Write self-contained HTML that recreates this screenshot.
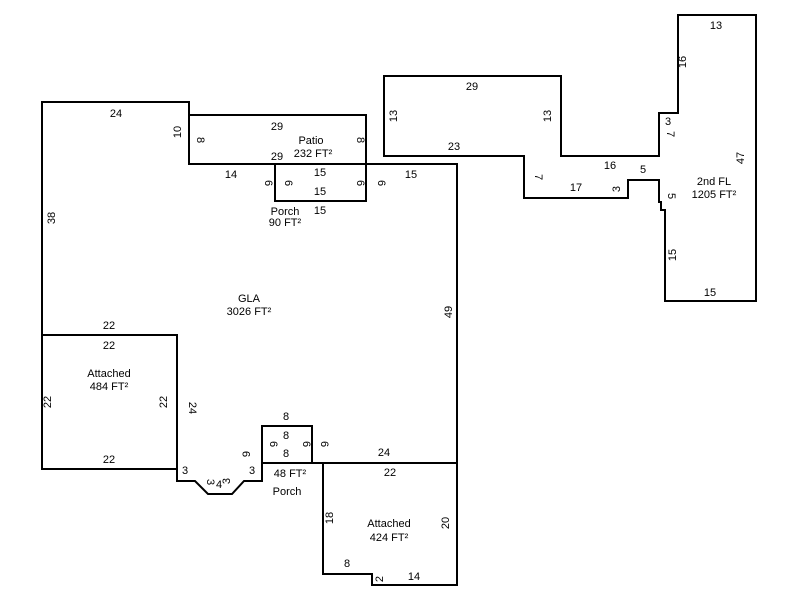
<!DOCTYPE html>
<html><head><style>
html,body{margin:0;padding:0;background:#fff;}
svg text{font-family:"Liberation Sans",Arial,sans-serif;font-size:11px;fill:#000;}
</style></head><body>
<svg width="800" height="600" viewBox="0 0 800 600" xmlns="http://www.w3.org/2000/svg">
<g fill="none" stroke="#000" stroke-width="2">
<polyline points="42,335 42,102 189,102 189,164 457,164 457,463 312,463"/>
<line x1="177" y1="469" x2="177" y2="335"/>
<polyline points="177,469 177,481 195,481 208,494 232,494 244,481 262,481 262,463"/>
<polyline points="42,335 177,335 177,469 42,469 42,335"/>
<polygon points="262,426 312,426 312,463 262,463"/>
<polygon points="323,463 457,463 457,585 372,585 372,574 323,574"/>
<polygon points="189,115 366,115 366,164 189,164"/>
<polygon points="275,164 366,164 366,201 275,201"/>
<polygon points="384,76 561,76 561,156 659,156 659,113 678,113 678,15 756,15 756,301 665,301 665,210 661,210 661,202 659,202 659,180 628,180 628,198 524,198 524,156 384,156"/>
</g>
<g text-anchor="middle">
<text x="116" y="117">24</text>
<text x="55" y="218" transform="rotate(-90 55 218)">38</text>
<text x="181" y="132" transform="rotate(-90 181 132)">10</text>
<text x="197" y="140" transform="rotate(90 197 140)">8</text>
<text x="277" y="130">29</text>
<text x="277" y="160">29</text>
<text x="311" y="144">Patio</text>
<text x="313" y="157">232 FT²</text>
<text x="357" y="140" transform="rotate(90 357 140)">8</text>
<text x="231" y="178">14</text>
<text x="265" y="183" transform="rotate(90 265 183)">6</text>
<text x="285" y="183" transform="rotate(90 285 183)">6</text>
<text x="320" y="176">15</text>
<text x="320" y="195">15</text>
<text x="357" y="183" transform="rotate(90 357 183)">6</text>
<text x="378" y="183" transform="rotate(90 378 183)">6</text>
<text x="411" y="178">15</text>
<text x="285" y="215">Porch</text>
<text x="320" y="214">15</text>
<text x="285" y="226">90 FT²</text>
<text x="249" y="302">GLA</text>
<text x="249" y="315">3026 FT²</text>
<text x="452" y="312" transform="rotate(-90 452 312)">49</text>
<text x="109" y="329">22</text>
<text x="109" y="349">22</text>
<text x="109" y="377">Attached</text>
<text x="109" y="390">484 FT²</text>
<text x="51" y="402" transform="rotate(-90 51 402)">22</text>
<text x="167" y="402" transform="rotate(-90 167 402)">22</text>
<text x="189" y="408" transform="rotate(90 189 408)">24</text>
<text x="109" y="463">22</text>
<text x="185" y="474">3</text>
<text x="207" y="482" transform="rotate(90 207 482)">3</text>
<text x="219" y="488">4</text>
<text x="230" y="481" transform="rotate(-90 230 481)">3</text>
<text x="252" y="474">3</text>
<text x="250" y="454" transform="rotate(-90 250 454)">9</text>
<text x="286" y="420">8</text>
<text x="286" y="439">8</text>
<text x="286" y="457">8</text>
<text x="270" y="444" transform="rotate(90 270 444)">6</text>
<text x="303" y="444" transform="rotate(90 303 444)">6</text>
<text x="321" y="444" transform="rotate(90 321 444)">6</text>
<text x="384" y="456">24</text>
<text x="290" y="477">48 FT²</text>
<text x="287" y="495">Porch</text>
<text x="390" y="476">22</text>
<text x="333" y="518" transform="rotate(-90 333 518)">18</text>
<text x="389" y="527">Attached</text>
<text x="389" y="541">424 FT²</text>
<text x="449" y="523" transform="rotate(-90 449 523)">20</text>
<text x="347" y="567">8</text>
<text x="383" y="579" transform="rotate(-90 383 579)">2</text>
<text x="414" y="580">14</text>
<text x="472" y="90">29</text>
<text x="397" y="116" transform="rotate(-90 397 116)">13</text>
<text x="551" y="116" transform="rotate(-90 551 116)">13</text>
<text x="454" y="150">23</text>
<text x="535" y="177" transform="rotate(90 535 177)">7</text>
<text x="576" y="191">17</text>
<text x="620" y="189" transform="rotate(-90 620 189)">3</text>
<text x="610" y="169">16</text>
<text x="643" y="173">5</text>
<text x="668" y="125">3</text>
<text x="667" y="134" transform="rotate(90 667 134)">7</text>
<text x="686" y="62" transform="rotate(-90 686 62)">16</text>
<text x="716" y="29">13</text>
<text x="744" y="158" transform="rotate(-90 744 158)">47</text>
<text x="714" y="185">2nd FL</text>
<text x="714" y="198">1205 FT²</text>
<text x="668" y="196" transform="rotate(90 668 196)">5</text>
<text x="676" y="255" transform="rotate(-90 676 255)">15</text>
<text x="710" y="296">15</text>
</g>
</svg>
</body></html>
